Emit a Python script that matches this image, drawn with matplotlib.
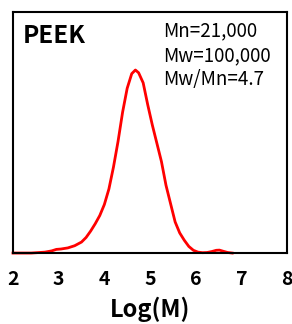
import matplotlib
matplotlib.use("Agg")
import matplotlib.pyplot as plt

plt.rcParams["font.family"] = ["Noto Sans CJK JP", "DejaVu Sans"]

# GPC 分子量分布 (PEEK)
log_m = [2.0, 2.4, 2.7, 2.85, 2.95, 3.05, 3.2, 3.35, 3.5, 3.6, 3.7, 3.8, 3.9, 4.0,
         4.1, 4.2, 4.3, 4.4, 4.5, 4.6, 4.68, 4.75, 4.85, 4.95, 5.05, 5.15, 5.25,
         5.35, 5.45, 5.55, 5.65, 5.75, 5.85, 5.95, 6.05, 6.15, 6.25, 6.35, 6.45,
         6.52, 6.6, 6.7, 6.8]
intensity = [0.0, 0.0, 0.005, 0.012, 0.02, 0.022, 0.028, 0.04, 0.06, 0.085, 0.12,
             0.16, 0.205, 0.265, 0.35, 0.47, 0.61, 0.77, 0.9, 0.98, 1.0, 0.985,
             0.93, 0.81, 0.7, 0.6, 0.5, 0.37, 0.27, 0.17, 0.11, 0.07, 0.036, 0.015,
             0.005, 0.002, 0.003, 0.008, 0.015, 0.016, 0.01, 0.003, 0.0]
x_ticks = [2, 3, 4, 5, 6, 7, 8]
stats = ["Mn=21,000", "Mw=100,000", "Mw/Mn=4.7"]

fig = plt.figure(figsize=(2.92, 3.24), dpi=100)
ax = fig.add_axes([0.0445, 0.219, 0.9385, 0.744])
ax.plot(log_m, intensity, color="#FF0000", linewidth=2.0, clip_on=False,
        solid_joinstyle="round")
ax.set_xlim(2, 8)
ax.set_ylim(0, 1.317)
ax.set_yticks([])
ax.set_xticks(x_ticks)
ax.set_xticklabels([str(t) for t in x_ticks], fontsize=14, fontweight="bold")
ax.tick_params(axis="x", length=0, pad=12)
for s in ax.spines.values():
    s.set_linewidth(1.5)
    s.set_color("black")
ax.set_xlabel("Log(M)", fontsize=17, fontweight="bold", labelpad=6)

ax.text(0.035, 0.9, "PEEK", transform=ax.transAxes, fontsize=17.5,
        fontweight="bold", va="center", ha="left")
for i, s in enumerate(stats):
    ax.text(0.547, 0.92 - i * 0.1, s, transform=ax.transAxes, fontsize=13.5,
            va="center", ha="left")

fig.savefig("out.png", dpi=100)
